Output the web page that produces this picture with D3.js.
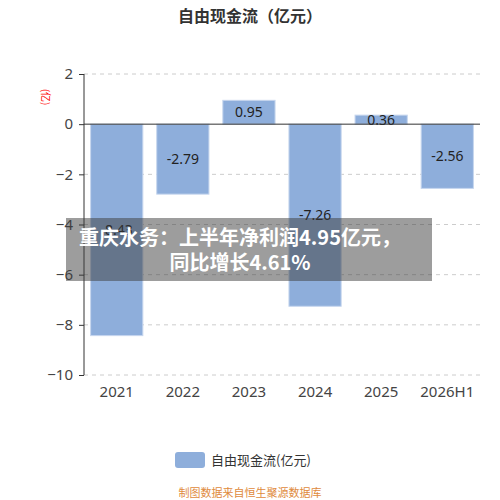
<!DOCTYPE html>
<html><head><meta charset="utf-8">
<script src="https://cdn.jsdelivr.net/npm/d3@7"></script>
<style>body{margin:0;background:#fff;font-family:"Noto Sans","Noto Sans CJK SC",sans-serif}</style>
</head><body><div class="chart"></div>
<script>
const years = ["2021", "2022", "2023", "2024", "2025", "2026H1"];
const cashFlow = [-8.43, -2.79, 0.95, -7.26, 0.36, -2.56];
const yTicks = [2, 0, -2, -4, -6, -8, -10];

const svg = d3.select(".chart").append("svg").attr("width", 500).attr("height", 500);
const cjk = '"Noto Sans CJK SC",sans-serif';

const x = d3.scaleBand().domain(years).range([84, 480]).paddingInner(0.21).paddingOuter(0.1);
const y = d3.scaleLinear().domain([-10, 2]).range([375, 74]);

// grid lines
svg.append("g").selectAll("line").data(yTicks.filter(d => d !== 0)).join("line")
  .attr("x1", 84).attr("x2", 480).attr("y1", d => y(d)).attr("y2", d => y(d))
  .attr("stroke", "#ccc").attr("stroke-dasharray", "4,4");

// bars
svg.append("g").selectAll("rect").data(cashFlow).join("rect")
  .attr("x", (d, i) => x(years[i])).attr("width", x.bandwidth())
  .attr("y", d => y(Math.max(0, d))).attr("height", d => Math.abs(y(d) - y(0)))
  .attr("fill", "#8eaedb").attr("stroke", "#c6d6ee");

// value labels in the middle of each bar
svg.append("g").selectAll("text").data(cashFlow).join("text")
  .attr("x", (d, i) => x(years[i]) + x.bandwidth() / 2)
  .attr("y", d => (y(d) + y(0)) / 2 + 5)
  .attr("text-anchor", "middle").attr("font-size", 14).attr("fill", "#222")
  .text(d => d.toFixed(2));

// y axis
const ya = svg.append("g").attr("transform", "translate(84,0)")
  .call(d3.axisLeft(y).tickValues(yTicks).tickSize(5).tickPadding(6));
ya.selectAll("text").attr("font-size", 15).attr("fill", "#444").attr("font-family", "Noto Sans");
ya.selectAll("line,path").attr("stroke", "#333");
ya.select(".domain").attr("d", "M0,74V375");

// zero line and x axis labels
svg.append("line").attr("x1", 84).attr("x2", 480).attr("y1", y(0)).attr("y2", y(0)).attr("stroke", "#333");
svg.append("g").selectAll("text").data(years).join("text")
  .attr("x", d => x(d) + x.bandwidth() / 2).attr("y", 397)
  .attr("text-anchor", "middle").attr("font-size", 15).attr("fill", "#444").text(d => d);

// unit label
svg.append("text").attr("transform", "translate(45,97) rotate(90)")
  .attr("text-anchor", "middle").attr("dy", "0.35em").attr("font-size", 10).attr("fill", "red")
  .attr("font-family", cjk).text("(亿)");

// title
svg.append("text").attr("x", 250).attr("y", 22).attr("text-anchor", "middle")
  .attr("font-size", 16).attr("font-weight", "bold").attr("fill", "#333").attr("font-family", cjk)
  .text("自由现金流（亿元）");

// legend
svg.append("rect").attr("x", 175).attr("y", 452).attr("width", 30).attr("height", 16)
  .attr("rx", 3).attr("fill", "#8eaedb");
svg.append("text").attr("x", 211).attr("y", 465).attr("font-size", 13).attr("fill", "#333")
  .attr("font-family", cjk).text("自由现金流(亿元)");

// source
svg.append("text").attr("x", 250).attr("y", 497).attr("text-anchor", "middle")
  .attr("font-size", 11).attr("fill", "#e08a3c").attr("font-family", cjk)
  .text("制图数据来自恒生聚源数据库");

// overlay headline
svg.append("rect").attr("x", 66).attr("y", 218).attr("width", 366).attr("height", 63)
  .attr("fill", "rgba(60,60,60,0.5)");
const head = svg.append("text").attr("text-anchor", "middle").attr("font-size", 20)
  .attr("font-weight", "bold").attr("fill", "#fff").attr("font-family", cjk);
head.append("tspan").attr("x", 240).attr("y", 245).text("重庆水务：上半年净利润4.95亿元，");
head.append("tspan").attr("x", 240).attr("y", 270).text("同比增长4.61%");
</script></body></html>
